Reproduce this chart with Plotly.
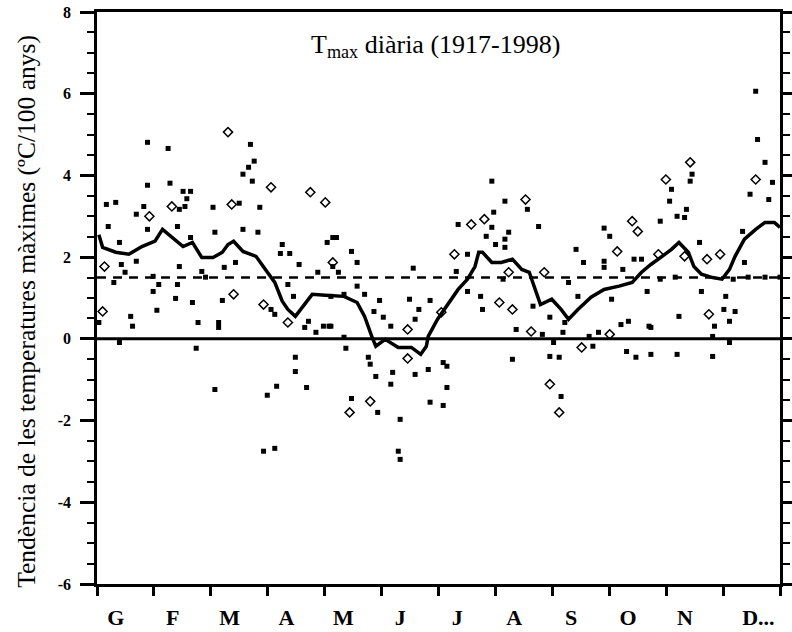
import plotly.graph_objects as go

# ---- data (day of year, trend in degC/100 yr) ----
month_labels = ["G", "F", "M", "A", "M", "J", "J", "A", "S", "O", "N", "D..."]
y_tick_values = [-6, -4, -2, 0, 2, 4, 6, 8]
y_tick_labels = ["-6", "-4", "-2", "0", "2", "4", "6", "8"]
mean_trend = 1.5

line_day = [1, 3, 10, 17, 24, 31, 35, 40, 46, 51, 54, 56, 62, 67, 70, 73, 78, 85, 90, 95,
            99, 102, 106, 110, 115, 122, 128, 132, 139, 143, 147, 149, 154, 161, 168, 173,
            176, 177, 182, 188, 193, 198, 202, 204, 206, 211, 216, 222, 227, 231, 234, 237,
            243, 248, 252, 257, 264, 271, 279, 286, 291, 296, 302, 307, 311, 316, 319, 323,
            329, 334, 338, 341, 346, 352, 357, 362, 365]
line_val = [2.55, 2.24, 2.12, 2.07, 2.26, 2.39, 2.68, 2.48, 2.26, 2.36, 2.12, 1.99, 1.99, 2.12,
            2.31, 2.39, 2.14, 2.02, 1.70, 1.38, 0.92, 0.72, 0.55, 0.80, 1.09, 1.07, 1.04, 1.04,
            0.89, 0.55, 0.04, -0.18, -0.01, -0.21, -0.21, -0.38, -0.18, 0.06, 0.48, 0.89, 1.21,
            1.46, 1.77, 2.12, 2.12, 1.87, 1.87, 1.95, 1.70, 1.63, 1.21, 0.84, 0.97, 0.72, 0.48,
            0.72, 1.02, 1.21, 1.29, 1.38, 1.63, 1.82, 2.02, 2.19, 2.36, 2.12, 1.77, 1.58, 1.50,
            1.46, 1.70, 2.02, 2.44, 2.68, 2.85, 2.85, 2.73]

sq_day = [27, 38, 82, 84, 81, 78, 83, 27, 39, 46, 50, 48, 47, 44, 5, 10, 25, 21, 62, 76, 87,
          6, 27, 43, 63, 78, 86, 50, 123, 126, 99, 98, 103, 21, 12, 13, 15, 44, 68, 74, 108,
          118, 126, 9, 30, 33, 43, 56, 58, 30, 102, 105, 42, 51, 67, 93, 95, 32, 18, 19, 54,
          65, 65, 111, 113, 121, 124, 117, 1, 12, 53, 106, 106, 63, 96, 91, 112, 89, 95,
          211, 218, 230, 212, 193, 211, 208, 213, 218, 220, 218, 236, 128, 198, 136, 139, 129,
          192, 169, 217, 139, 198, 205, 206, 233, 125, 132, 143, 151, 167, 178, 172, 148, 153,
          157, 170, 242, 224, 238, 250, 132, 125, 133, 145, 146, 149, 158, 157, 170, 177, 185,
          187, 187, 178, 185, 136, 150, 162, 161, 162, 222, 242, 247, 248, 244,
          352, 353, 318, 307, 317, 357, 361, 349, 359, 306, 310, 314, 315, 301, 271, 274, 256,
          260, 271, 271, 281, 287, 291, 322, 345, 346, 252, 301, 309, 340, 348, 357, 365, 257,
          275, 294, 323, 336, 335, 341, 311, 295, 296, 280, 284, 330, 338, 263, 268, 329, 249,
          265, 283, 288, 296, 310, 329, 338]
sq_val = [4.81, 4.66, 4.76, 4.35, 4.20, 4.03, 3.86, 3.76, 3.81, 3.61, 3.61, 3.43, 3.24, 3.17,
          3.29, 3.34, 3.24, 3.05, 3.22, 3.32, 3.22, 2.75, 2.68, 2.75, 2.61, 2.68, 2.61, 2.48,
          2.36, 2.48, 2.31, 2.09, 2.09, 1.90, 2.36, 1.82, 1.63, 1.77, 1.75, 1.87, 1.82, 1.63,
          1.77, 1.38, 1.53, 1.33, 1.33, 1.65, 1.51, 1.16, 1.33, 1.04, 0.99, 0.89, 0.94, 0.72,
          0.60, 0.70, 0.55, 0.31, 0.40, 0.40, 0.28, 0.28, 0.43, 0.31, 0.31, 0.16, 0.40, -0.09,
          -0.23, -0.45, -0.80, -1.24, -1.16, -1.38, -1.19, -2.75, -2.68,
          3.86, 3.37, 3.17, 3.10, 2.80, 2.73, 2.51, 2.31, 2.24, 2.61, 2.44, 2.75, 2.48, 2.07,
          2.14, 1.87, 1.63, 1.65, 1.73, 1.46, 1.29, 1.16, 1.04, 0.72, 0.80, 1.04, 1.09, 1.09,
          0.94, 0.97, 0.94, 0.72, 0.67, 0.53, 0.31, 0.48, 0.53, 0.23, 0.11, 0.40, 0.04, 0.31,
          -0.23, -0.45, -0.62, -0.92, -0.82, -1.11, -0.87, -0.75, -0.58, -0.67, -1.19, -1.55,
          -1.63, -1.46, -1.80, -1.97, -2.75, -2.95, -0.50, -0.43, -0.45, -1.41, -0.09,
          6.06, 4.88, 4.03, 3.66, 3.86, 4.32, 3.83, 3.54, 3.41, 3.37, 3.00, 2.97, 3.17, 2.88,
          2.71, 2.51, 2.19, 1.87, 1.90, 1.75, 1.70, 1.95, 1.95, 2.36, 2.63, 1.87, 1.38, 1.46,
          1.51, 1.46, 1.51, 1.51, 1.51, 1.04, 0.97, 1.16, 1.16, 1.04, 0.72, 0.67, 0.55, 0.31,
          0.28, 0.35, 0.43, 0.31, 0.43, 0.06, 0.16, 0.06, 0.16, -0.18, -0.31, -0.45, -0.38,
          -0.38, -0.43, -0.09]

dia_day = [70, 93, 40, 28, 72, 114, 122, 4, 73, 89, 3, 102,
           229, 200, 207, 191, 126, 220, 239, 215, 222, 184, 166, 232, 135, 146, 166, 242, 247,
           317, 304, 352, 286, 289, 278, 300, 326, 333, 314, 327, 274, 259]
dia_val = [5.06, 3.71, 3.24, 3.00, 3.29, 3.59, 3.34, 1.77, 1.09, 0.84, 0.67, 0.40,
           3.41, 2.80, 2.93, 2.07, 1.87, 1.63, 1.63, 0.89, 0.72, 0.65, 0.23, 0.18, -1.80,
           -1.53, -0.48, -1.11, -1.80,
           4.32, 3.90, 3.90, 2.88, 2.63, 2.14, 2.07, 1.95, 2.07, 2.02, 0.60, 0.11, -0.21]

# ---- figure ----
SERIF = "Liberation Serif, Times New Roman, serif"
days_in_year = 365
month_len = days_in_year / 12

fig = go.Figure()

fig.add_trace(go.Scatter(x=[0, days_in_year], y=[0, 0], mode="lines",
                         line=dict(color="black", width=3), hoverinfo="skip", showlegend=False))
fig.add_trace(go.Scatter(x=[0, days_in_year], y=[mean_trend, mean_trend], mode="lines",
                         line=dict(color="black", width=2.5, dash="9px,7px"),
                         hoverinfo="skip", showlegend=False))
fig.add_trace(go.Scatter(x=sq_day, y=sq_val, mode="markers",
                         marker=dict(symbol="square", size=5, color="black"),
                         showlegend=False))
fig.add_trace(go.Scatter(x=dia_day, y=dia_val, mode="markers",
                         marker=dict(symbol="diamond-open", size=7, color="black",
                                     line=dict(width=1.5, color="black")),
                         showlegend=False))
fig.add_trace(go.Scatter(x=line_day, y=line_val, mode="lines",
                         line=dict(color="black", width=3.5), showlegend=False))

label_offsets = [0.33] * 11 + [0.62]
tick_pos = [(i + label_offsets[i]) * month_len for i in range(12)]

fig.update_xaxes(range=[0, days_in_year], showgrid=False, zeroline=False, automargin=False,
                 showline=True, linecolor="black", linewidth=2.5, mirror=True,
                 tickmode="array", tickvals=tick_pos, ticktext=month_labels,
                 ticks="", ticklabelstandoff=12,
                 tickfont=dict(family=SERIF, size=22, color="black", weight="bold"),
                 minor=dict(ticks="outside", tick0=0, dtick=month_len, ticklen=9,
                            tickwidth=2.5, tickcolor="black", showgrid=False))
fig.update_yaxes(range=[-6, 8], showgrid=False, zeroline=False, automargin=False,
                 showline=True, linecolor="black", linewidth=2.5, mirror="allticks",
                 tickmode="array", tickvals=y_tick_values, ticktext=y_tick_labels,
                 ticks="outside", ticklen=14, tickwidth=2.5, tickcolor="black",
                 ticklabelstandoff=6,
                 tickfont=dict(family=SERIF, size=16, color="black", weight="bold"),
                 minor=dict(ticks="outside", tick0=-6, dtick=0.5, ticklen=7, tickwidth=2,
                            tickcolor="black", showgrid=False))

fig.add_annotation(text="T<sub>max</sub> diària (1917-1998)", xref="paper", yref="paper",
                   x=0.495, y=0.94, xanchor="center", yanchor="middle", showarrow=False,
                   font=dict(family=SERIF, size=26, color="black"))
fig.add_annotation(text="Tendència de les temperatures màximes (ºC/100 anys)",
                   xref="paper", yref="paper", x=-0.103, y=0.477, textangle=-90,
                   xanchor="center", yanchor="middle", showarrow=False,
                   font=dict(family=SERIF, size=25.5, color="black"))

fig.update_layout(width=792, height=632, margin=dict(l=97, r=12, t=12, b=48),
                  plot_bgcolor="white", paper_bgcolor="white")

fig.write_html("out.html")
